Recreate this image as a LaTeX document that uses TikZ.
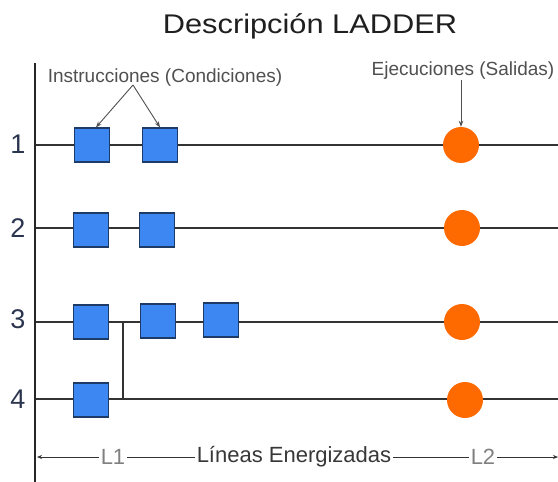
\documentclass[tikz,border=0pt]{standalone}
\usepackage{fontspec}
\setmainfont{Liberation Sans}
\usetikzlibrary{arrows.meta}
\definecolor{boxblue}{HTML}{3D87F2}
\definecolor{boxedge}{HTML}{1E3A66}
\definecolor{outorange}{HTML}{FF6A00}
\definecolor{wire}{HTML}{333333}
\definecolor{numcol}{HTML}{2C3550}
\definecolor{lblgray}{HTML}{505050}
\definecolor{lgray}{HTML}{808080}
\begin{document}
\begin{tikzpicture}[x=1pt,y=-1pt,
  cond/.style={draw=boxedge, fill=boxblue, line width=1.3pt, minimum width=35pt, minimum height=34pt, inner sep=0pt},
  coil/.style={circle, fill=outorange, minimum size=36pt, inner sep=0pt},
  wireline/.style={draw=wire, line width=1.4pt},
  railline/.style={draw=black!85, line width=2.6pt},
  rungnum/.style={font=\fontsize{27}{27}\selectfont, text=numcol},
  callout/.style={font=\fontsize{19}{19}\selectfont, text=lblgray, anchor=base},
  pointer/.style={draw=lblgray, line width=0.9pt, -{Stealth[length=6pt,width=4.5pt]}},
  dimtext/.style={font=\fontsize{22}{22}\selectfont, inner sep=2pt},
  dimline/.style={draw=black!80, line width=1pt}]
\useasboundingbox (0,0) rectangle (558,482);
\fill[white] (0,0) rectangle (558,482);

% title
\node[font=\fontsize{27}{27}\selectfont, xscale=1.14, text=black!88, anchor=base] (title) at (310,33) {Descripción LADDER};

% rail
\coordinate (railtop) at (35,63);
\coordinate (railbot) at (35,482);

% rung coordinates
\coordinate (r1L) at (35,145);  \coordinate (r1R) at (558,145);
\coordinate (r2L) at (35,228);  \coordinate (r2R) at (558,228);
\coordinate (r3L) at (35,322);  \coordinate (r3R) at (558,322);
\coordinate (r4L) at (35,399);  \coordinate (r4R) at (558,399);
\coordinate (b3) at (123,322);  \coordinate (b4) at (123,399);

\draw[wireline] (r1L) -- (r1R);
\draw[wireline] (r2L) -- (r2R);
\draw[wireline] (r3L) -- (r3R);
\draw[wireline] (r4L) -- (r4R);
\draw[wireline] (b3) -- (b4);
\draw[railline] (railtop) -- (railbot);

% numbers
\node[rungnum] (n1) at (18,144) {1};
\node[rungnum] (n2) at (18,228) {2};
\node[rungnum] (n3) at (18,319) {3};
\node[rungnum] (n4) at (18,399) {4};

% conditions
\node[cond] (s11) at (92,145) {};
\node[cond] (s12) at (160,145) {};
\node[cond] (s21) at (91,230) {};
\node[cond] (s22) at (157,230) {};
\node[cond] (s31) at (91,322) {};
\node[cond] (s32) at (158,321) {};
\node[cond] (s33) at (221,320) {};
\node[cond] (s41) at (91,400) {};

% outputs
\node[coil] (c1) at (461,145) {};
\node[coil] (c2) at (462,228) {};
\node[coil] (c3) at (462,322) {};
\node[coil] (c4) at (465,400) {};

% callouts
\node[callout] (instr) at (165,82) {Instrucciones (Condiciones)};
\node[callout] (ejec) at (463,75) {Ejecuciones (Salidas)};
\coordinate (apex) at (133,85);
\coordinate (ejtail) at (461,80);
\draw[pointer] (apex) -- ([xshift=4pt]s11.north);
\draw[pointer] (apex) -- (s12.north);
\draw[pointer] (ejtail) -- (c1.north);

% bottom dimension line
\coordinate (dimL) at (37,457);
\coordinate (dimR) at (558,457);
\node[dimtext, text=lgray] (L1) at (113,457) {L1};
\node[dimtext, text=black!78] (LE) at (294,457) {Líneas Energizadas};
\node[dimtext, text=lgray] (L2) at (483,457) {L2};
\draw[dimline, {Stealth[length=5pt,width=4pt]}-] (dimL) -- (L1.west);
\draw[dimline] (L1.east) -- (LE.west);
\draw[dimline] (LE.east) -- (L2.west);
\draw[dimline, -{Stealth[length=5pt,width=4pt]}] (L2.east) -- (dimR);
\end{tikzpicture}
\end{document}
